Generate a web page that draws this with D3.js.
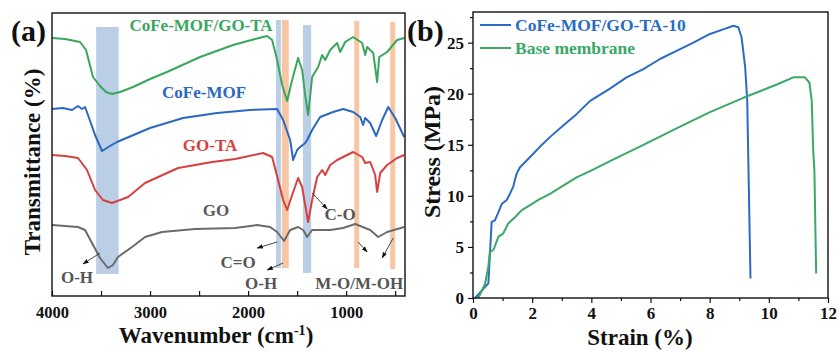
<!DOCTYPE html>
<html>
<head>
<meta charset="utf-8">
<script src="https://cdn.jsdelivr.net/npm/d3@7"></script>
<style>
  body { margin: 0; background: #fff; }
  svg text { font-family: "Liberation Serif", "Times New Roman", serif; font-weight: bold; }
</style>
</head>
<body>
<svg id="chart" width="839" height="351"></svg>
<script>
// ---------- (a) FTIR spectra: [wavenumber cm-1, transmittance a.u., offset stacked] ----------
const compositeSpectrum = [
  [4000,258],[3867,257],[3714,254],[3653,246],[3582,219],[3510,210],[3449,204],[3388,202],
  [3306,204],[3173,209],[3000,217],[2827,224],[2490,239],[2153,251],[1929,257],[1806,260],
  [1755,256],[1704,236],[1653,211],[1602,195],[1551,216],[1490,238],[1449,226],[1418,201],
  [1388,181],[1347,219],[1286,229],[1245,241],[1214,236],[1163,246],[1092,253],[1061,244],
  [1010,254],[929,259],[837,253],[806,241],[786,249],[724,243],[684,214],[663,239],
  [582,244],[480,256],[408,258]
];
const mofSpectrum = [
  [4000,187],[3888,188],[3796,186],[3735,190],[3694,187],[3663,189],[3633,181],[3561,161],
  [3490,145],[3408,150],[3337,154],[3000,168],[2663,178],[2316,183],[1980,186],[1704,187],
  [1643,176],[1571,156],[1541,136],[1500,146],[1469,149],[1418,153],[1398,156],[1347,166],
  [1265,179],[1133,184],[1031,187],[929,184],[857,179],[827,171],[806,178],[755,173],
  [694,160],[633,176],[571,189],[500,178],[408,159]
];
const goTaSpectrum = [
  [4000,141],[3867,140],[3735,138],[3643,126],[3561,106],[3480,96],[3388,93],[3224,99],
  [3051,113],[2714,128],[2367,134],[2133,137],[1847,143],[1755,139],[1694,116],[1643,96],
  [1602,86],[1551,101],[1490,118],[1449,109],[1418,91],[1388,74],[1347,96],[1296,119],
  [1245,126],[1214,121],[1163,131],[1092,136],[1031,139],[929,144],[837,139],[806,133],
  [755,134],[704,121],[684,104],[653,123],[582,131],[480,138],[408,141]
];
const goSpectrum = [
  [4000,71],[3867,70],[3735,69],[3663,66],[3592,53],[3510,38],[3429,28],[3378,31],
  [3327,39],[3184,49],[3051,59],[2878,64],[2541,67],[2133,68],[1908,71],[1776,69],
  [1704,64],[1633,55],[1571,66],[1490,69],[1439,66],[1398,59],[1347,66],[1163,66],
  [1031,68],[908,72],[755,66],[673,59],[582,64],[408,69]
];
const ftirSeries = ["CoFe-MOF/GO-TA", "CoFe-MOF", "GO-TA", "GO"];
const ftirColors = ["#3aa65e", "#2a68c2", "#d8403f", "#6b6b6b"];
// series label anchor: [wavenumber, level]
const ftirLabelPos = [[2480,265],[2449,198],[2388,145],[2327,80]];

// highlighted bands: [from, to, bottom, top, kind]
const bandFrom = [3550, 1715, 1655, 1440, 918, 551];
const bandTo   = [3320, 1665, 1585, 1357, 867, 500];
const bandLow  = [22, 28, 28, 23, 28, 27];
const bandHigh = [269, 276, 276, 271, 275, 274];
const bandKind = ["oh", "oh", "co", "oh", "co", "co"];

// assignment labels and pointer arrows (wavenumber / level)
const peakLabels = ["O-H", "C-O", "C=O", "O-H", "M-O/M-OH"];
const peakLabelPos = [[3745,13],[1061,76],[2102,28],[1867,7],[867,7]];
const arrowStart = [[3510,43],[1347,103],[1704,54],[1643,33],[878,54],[520,58]];
const arrowEnd   = [[3684,32],[1194,87],[1908,48],[1806,26],[786,44],[633,38]];

const wnTicks = [4000,3500,3000,2500,2000,1500,1000,500];

// ---------- (b) stress-strain curves: [strain %, stress MPa] ----------
const compositeTensile = [
  [0.07,0],[0.52,1.43],[0.63,7.45],[0.74,7.6],[0.86,8.4],[0.97,9.2],[1.14,9.6],[1.25,10.2],
  [1.36,10.9],[1.42,11.6],[1.48,12.2],[1.59,12.8],[1.93,13.8],[2.26,14.8],[2.6,15.75],
  [3.05,16.9],[3.5,18.0],[3.96,19.3],[4.63,20.5],[5.19,21.6],[5.76,22.4],[6.32,23.4],
  [6.88,24.2],[7.45,25.0],[8.01,25.85],[8.46,26.3],[8.8,26.65],[8.97,26.5],[9.08,25.5],
  [9.2,22.6],[9.27,19.3],[9.38,1.9]
];
const baseTensile = [
  [0.18,0],[0.41,1.4],[0.52,3.1],[0.57,4.5],[0.69,4.7],[0.86,6.0],[1.02,6.3],[1.19,7.3],
  [1.42,7.9],[1.65,8.6],[1.93,9.1],[2.21,9.6],[2.6,10.2],[3.05,11.0],[3.5,11.8],[4.01,12.5],
  [4.63,13.4],[5.76,15.0],[6.88,16.6],[8.01,18.2],[9.14,19.6],[10.27,20.9],[10.83,21.6],
  [11.22,21.6],[11.37,21.1],[11.45,19.3],[11.5,14.45],[11.54,12.5],[11.6,2.4]
];
const tensileSeries = ["CoFe-MOF/GO-TA-10", "Base membrane"];
const tensileColors = ["#2a6cc4", "#3aa866"];
const strainTicks = [0,2,4,6,8,10,12];
const stressTicks = [0,5,10,15,20,25];

const svg = d3.select("#chart");
const defs = svg.append("defs");
defs.append("marker").attr("id", "head")
  .attr("viewBox", "0 0 10 10").attr("refX", 9).attr("refY", 5)
  .attr("markerWidth", 7).attr("markerHeight", 7).attr("orient", "auto")
  .append("path").attr("d", "M0,1.5 L10,5 L0,8.5 Z").attr("fill", "#111");

// ================= panel (a) =================
const xA = d3.scaleLinear().domain([4000, 400]).range([52, 405]);
const yA = d3.scaleLinear().domain([0, 283]).range([296, 13]);
const gA = svg.append("g");

gA.selectAll("rect.band").data(bandFrom).join("rect").attr("class", "band")
  .attr("x", (d, i) => xA(d))
  .attr("width", (d, i) => xA(bandTo[i]) - xA(d))
  .attr("y", (d, i) => yA(bandHigh[i]))
  .attr("height", (d, i) => yA(bandLow[i]) - yA(bandHigh[i]))
  .attr("fill", (d, i) => bandKind[i] === "oh" ? "#b6cbe5" : "#f7c4a0")
  .attr("opacity", 0.95);

const lineA = d3.line().x(d => xA(d[0])).y(d => yA(d[1]));
[compositeSpectrum, mofSpectrum, goTaSpectrum, goSpectrum].forEach((s, i) => {
  gA.append("path").datum(s).attr("d", lineA)
    .attr("fill", "none").attr("stroke", ftirColors[i])
    .attr("stroke-width", 2).attr("stroke-linejoin", "round");
});

gA.selectAll("text.series").data(ftirSeries).join("text").attr("class", "series")
  .attr("x", (d, i) => xA(ftirLabelPos[i][0]))
  .attr("y", (d, i) => yA(ftirLabelPos[i][1]))
  .attr("text-anchor", "middle").attr("font-size", 17)
  .attr("fill", (d, i) => i === 3 ? "#5a5a5a" : ftirColors[i])
  .text(d => d);

gA.selectAll("line.arrow").data(arrowStart).join("line").attr("class", "arrow")
  .attr("x1", d => xA(d[0])).attr("y1", d => yA(d[1]))
  .attr("x2", (d, i) => xA(arrowEnd[i][0])).attr("y2", (d, i) => yA(arrowEnd[i][1]))
  .attr("stroke", "#333").attr("stroke-width", 0.9).attr("marker-end", "url(#head)");

gA.selectAll("text.peak").data(peakLabels).join("text").attr("class", "peak")
  .attr("x", (d, i) => xA(peakLabelPos[i][0]))
  .attr("y", (d, i) => yA(peakLabelPos[i][1]))
  .attr("text-anchor", "middle").attr("font-size", 17).attr("fill", "#555")
  .text(d => d);

gA.append("rect").attr("x", 52).attr("y", 13).attr("width", 353).attr("height", 283)
  .attr("fill", "none").attr("stroke", "#111").attr("stroke-width", 1.4);

const axA = gA.append("g").attr("transform", "translate(0,296)")
  .call(d3.axisBottom(xA).tickValues(wnTicks).tickSize(-5).tickPadding(10)
    .tickFormat(d => d % 1000 === 0 ? d : ""));
axA.select(".domain").remove();
axA.selectAll("line").attr("stroke", "#111").attr("stroke-width", 1.2);
axA.selectAll("text").attr("font-size", 16.5).attr("fill", "#111")
  .style("font-family", "'Liberation Serif', serif").style("font-weight", "bold");

const xTitleA = gA.append("text").attr("x", 216).attr("y", 343)
  .attr("text-anchor", "middle").attr("font-size", 23).attr("fill", "#111");
xTitleA.append("tspan").text("Wavenumber (cm");
xTitleA.append("tspan").attr("dy", -8).attr("font-size", 14).text("-1");
xTitleA.append("tspan").attr("dy", 8).text(")");

gA.append("text").attr("transform", "translate(40,162) rotate(-90)")
  .attr("text-anchor", "middle").attr("font-size", 23).attr("fill", "#111")
  .text("Transmittance (%)");

svg.append("text").attr("x", 11).attr("y", 41).attr("font-size", 30).attr("fill", "#111").text("(a)");

// ================= panel (b) =================
const xB = d3.scaleLinear().domain([0, 12]).range([473, 828]);
const yB = d3.scaleLinear().domain([0, 28]).range([298, 12]);
const gB = svg.append("g");

const lineB = d3.line().x(d => xB(d[0])).y(d => yB(d[1]));
[compositeTensile, baseTensile].forEach((s, i) => {
  gB.append("path").datum(s).attr("d", lineB)
    .attr("fill", "none").attr("stroke", tensileColors[i])
    .attr("stroke-width", 2).attr("stroke-linejoin", "round");
});

gB.append("rect").attr("x", 473).attr("y", 12).attr("width", 355).attr("height", 286)
  .attr("fill", "none").attr("stroke", "#111").attr("stroke-width", 1.4);

gB.append("g").attr("transform", "translate(0,298)")
  .call(d3.axisBottom(xB).tickValues(strainTicks).tickSize(5).tickPadding(4));
gB.append("g").attr("transform", "translate(0,298)")
  .call(d3.axisBottom(xB).tickValues(d3.range(1, 12, 2)).tickSize(3).tickFormat(""));
gB.append("g").attr("transform", "translate(473,0)")
  .call(d3.axisLeft(yB).tickValues(stressTicks).tickSize(5).tickPadding(4));
gB.append("g").attr("transform", "translate(473,0)")
  .call(d3.axisLeft(yB).tickValues(d3.range(2.5, 28, 5)).tickSize(3).tickFormat(""));
gB.selectAll(".domain").remove();
gB.selectAll(".tick line").attr("stroke", "#111").attr("stroke-width", 1.2);
gB.selectAll(".tick text").attr("font-size", 17).attr("fill", "#111")
  .style("font-family", "'Liberation Serif', serif").style("font-weight", "bold");

gB.append("text").attr("x", 640).attr("y", 345).attr("text-anchor", "middle")
  .attr("font-size", 23).attr("fill", "#111").text("Strain (%)");
gB.append("text").attr("transform", "translate(440,152) rotate(-90)")
  .attr("text-anchor", "middle").attr("font-size", 24).attr("fill", "#111")
  .text("Stress (MPa)");

const legend = gB.selectAll("g.leg").data(tensileSeries).join("g").attr("class", "leg")
  .attr("transform", (d, i) => `translate(480,${25 + i * 23})`);
legend.append("line").attr("x1", 0).attr("x2", 31).attr("y1", 0).attr("y2", 0)
  .attr("stroke", (d, i) => tensileColors[i]).attr("stroke-width", 2);
legend.append("text").attr("x", 35).attr("y", 6).attr("font-size", 17.5)
  .attr("fill", (d, i) => tensileColors[i]).text(d => d);

svg.append("text").attr("x", 407).attr("y", 41).attr("font-size", 30).attr("fill", "#111").text("(b)");
</script>
</body>
</html>
